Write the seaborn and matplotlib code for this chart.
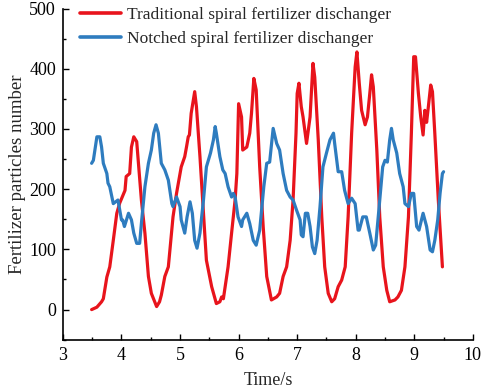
import numpy as np
import pandas as pd
import matplotlib
matplotlib.use('Agg')
import matplotlib.pyplot as plt
import seaborn as sns
from matplotlib.ticker import MultipleLocator

# Traditional spiral fertilizer dischanger
t_trad = [3.49, 3.58, 3.66, 3.69, 3.75, 3.80, 3.86, 3.92, 3.97, 4.06, 4.08, 4.14, 4.17, 4.21, 4.26,
          4.34, 4.40, 4.46, 4.51, 4.60, 4.65, 4.68, 4.74, 4.80, 4.88, 4.94, 5.00, 5.02, 5.08, 5.11,
          5.14, 5.16, 5.19, 5.25, 5.28, 5.34, 5.40, 5.45, 5.54, 5.62, 5.68, 5.71, 5.74, 5.82, 5.88,
          5.94, 5.97, 6.00, 6.05, 6.07, 6.14, 6.19, 6.22, 6.26, 6.30, 6.36, 6.42, 6.48, 6.56, 6.65,
          6.70, 6.76, 6.82, 6.88, 6.93, 6.98, 7.00, 7.03, 7.07, 7.10, 7.16, 7.22, 7.27, 7.30, 7.36,
          7.42, 7.47, 7.53, 7.59, 7.64, 7.70, 7.76, 7.82, 7.87, 7.93, 7.99, 8.02, 8.06, 8.10, 8.16,
          8.20, 8.24, 8.27, 8.30, 8.36, 8.41, 8.47, 8.53, 8.58, 8.67, 8.72, 8.78, 8.84, 8.90, 8.95,
          8.99, 9.02, 9.07, 9.11, 9.15, 9.18, 9.21, 9.24, 9.28, 9.31, 9.35, 9.41, 9.48]
v_trad = [0, 4, 13, 18, 54, 71, 115, 160, 177, 198, 221, 226, 270, 287, 279,
          182, 127, 55, 27, 5, 13, 24, 55, 71, 154, 193, 226, 237, 254, 270,
          287, 290, 326, 362, 337, 254, 160, 82, 38, 10, 13, 21, 18, 71, 127,
          182, 226, 342, 320, 265, 270, 293, 326, 384, 365, 237, 137, 55, 16, 21,
          27, 55, 71, 115, 182, 293, 359, 376, 337, 320, 276, 320, 409, 386, 282,
          154, 71, 27, 13, 18, 38, 49, 71, 154, 293, 403, 428, 376, 331, 307,
          320, 359, 390, 370, 265, 154, 71, 32, 13, 16, 21, 32, 71, 154, 293,
          420, 420, 359, 320, 290, 331, 311, 337, 373, 362, 293, 182, 71]

# Notched spiral fertilizer dischanger
t_notch = [3.49, 3.52, 3.58, 3.63, 3.66, 3.69, 3.75, 3.77, 3.80, 3.86, 3.94, 4.00, 4.02, 4.05, 4.12,
           4.17, 4.21, 4.26, 4.31, 4.34, 4.40, 4.46, 4.51, 4.55, 4.59, 4.63, 4.68, 4.74, 4.80, 4.86,
           4.88, 4.94, 5.00, 5.02, 5.08, 5.12, 5.17, 5.21, 5.25, 5.29, 5.34, 5.40, 5.45, 5.52, 5.57,
           5.60, 5.62, 5.68, 5.73, 5.77, 5.82, 5.88, 5.91, 5.94, 5.99, 6.05, 6.07, 6.14, 6.19, 6.25,
           6.30, 6.36, 6.43, 6.48, 6.53, 6.59, 6.65, 6.70, 6.76, 6.82, 6.88, 6.93, 6.99, 7.05, 7.07,
           7.10, 7.14, 7.18, 7.22, 7.26, 7.30, 7.34, 7.39, 7.44, 7.50, 7.56, 7.62, 7.64, 7.70, 7.76,
           7.81, 7.87, 7.93, 7.99, 8.04, 8.06, 8.12, 8.18, 8.24, 8.30, 8.34, 8.40, 8.46, 8.50, 8.54,
           8.58, 8.61, 8.64, 8.70, 8.75, 8.81, 8.84, 8.90, 8.95, 8.99, 9.04, 9.08, 9.15, 9.21, 9.27,
           9.31, 9.35, 9.40, 9.44, 9.48, 9.50]
v_notch = [243, 248, 287, 287, 270, 243, 226, 210, 204, 176, 182, 149, 149, 138, 160,
           149, 127, 110, 110, 143, 204, 243, 265, 293, 307, 293, 243, 232, 215, 176,
           171, 187, 171, 149, 127, 154, 179, 160, 115, 102, 127, 182, 237, 260, 282,
           304, 293, 254, 232, 226, 204, 187, 193, 187, 154, 138, 149, 160, 143, 115,
           107, 132, 204, 243, 245, 301, 276, 265, 226, 198, 187, 182, 165, 149, 124,
           121, 160, 160, 138, 104, 93, 115, 171, 237, 260, 282, 293, 276, 229, 229,
           198, 176, 185, 176, 132, 132, 154, 154, 127, 99, 107, 171, 237, 248, 245,
           282, 301, 282, 260, 226, 204, 176, 171, 193, 193, 138, 132, 160, 138, 99,
           96, 115, 149, 193, 226, 229]

labels = ['Traditional spiral fertilizer dischanger', 'Notched spiral fertilizer dischanger']
colors = ['#E8141C', '#2E7CBF']

df = pd.concat([
    pd.DataFrame({'Time': t_trad, 'Count': v_trad, 'Type': labels[0]}),
    pd.DataFrame({'Time': t_notch, 'Count': v_notch, 'Type': labels[1]}),
])

sns.set_style('ticks')
plt.rcParams['font.family'] = ['Liberation Serif', 'DejaVu Serif']
plt.rcParams['font.size'] = 13

fig = plt.figure(figsize=(4.84, 3.9), dpi=100)
ax = fig.add_axes([0.130, 0.129, 0.847, 0.849])

sns.lineplot(data=df, x='Time', y='Count', hue='Type', palette=colors,
             linewidth=2.3, ax=ax, sort=False, estimator=None)

ax.set_xlim(3, 10)
ax.set_ylim(-50, 500)
ax.xaxis.set_major_locator(MultipleLocator(1))
ax.xaxis.set_minor_locator(MultipleLocator(0.5))
ax.yaxis.set_major_locator(MultipleLocator(100))
ax.yaxis.set_minor_locator(MultipleLocator(50))
ax.tick_params(which='both', direction='in', colors='black', labelsize=13, width=1)
ax.tick_params(which='major', length=4, pad=5)
ax.tick_params(which='minor', length=2.5)
for s in ['top', 'right']:
    ax.spines[s].set_visible(False)
for s in ['left', 'bottom']:
    ax.spines[s].set_linewidth(1.2)
    ax.spines[s].set_color('black')

ax.set_xlabel('Time/s', fontsize=13, labelpad=6)
ax.set_ylabel('Fertilizer particles number', fontsize=13.5, labelpad=2)

leg = ax.legend(loc='upper left', frameon=False, fontsize=12.5, handlelength=2.4,
                handletextpad=0.3, labelspacing=0.4, borderaxespad=0.1,
                bbox_to_anchor=(0.02, 1.03))
for line in leg.get_lines():
    line.set_linewidth(2.6)

fig.savefig('out.png', dpi=100)
